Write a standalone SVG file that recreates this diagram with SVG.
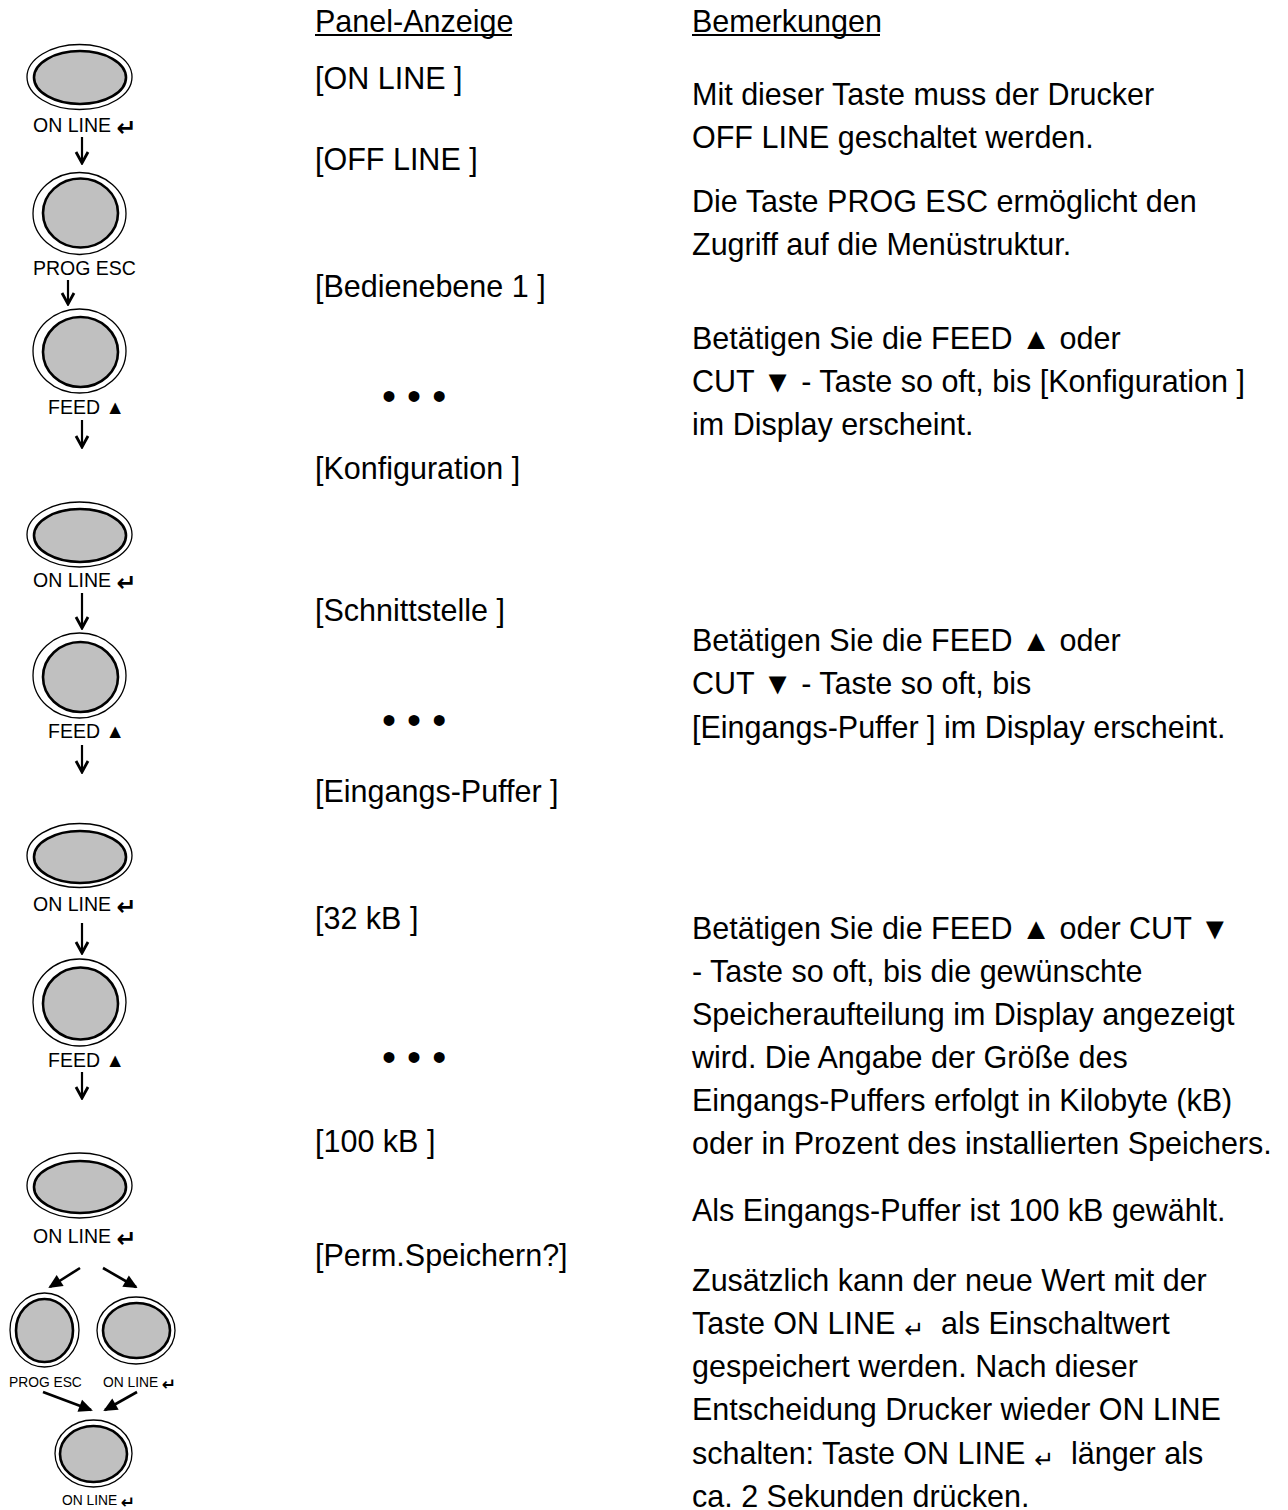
<svg xmlns="http://www.w3.org/2000/svg" width="1288" height="1510" viewBox="0 0 1288 1510">
<style>
text{font-family:"Liberation Sans","DejaVu Sans",sans-serif;fill:#000}
.t{font-size:30.5px}
.lb{font-size:19.5px}
.ls{font-size:13.8px}
.dots{font-size:40px}
.ret{font-family:"DejaVu Sans",sans-serif;font-weight:bold}
.retb{font-family:"DejaVu Sans",sans-serif;font-size:24px}
.outer{fill:#fff;stroke:#000;stroke-width:1.3}
.inner{fill:#c0c0c0;stroke:#000;stroke-width:2.6}
.ul{stroke:#000;stroke-width:2}
.v{stroke:#000;stroke-width:2.2;fill:none;marker-end:url(#chev)}
.d{stroke:#000;stroke-width:2.6;fill:none;marker-end:url(#tri)}
</style>
<defs>
<marker id="chev" markerUnits="userSpaceOnUse" viewBox="-14 -8 16 16" refX="0" refY="0" markerWidth="16" markerHeight="16" orient="auto">
<path d="M-11,-6 L0,0 L-11,6" fill="none" stroke="#000" stroke-width="2.8"/>
</marker>
<marker id="tri" markerUnits="userSpaceOnUse" viewBox="-16 -8 20 16" refX="0" refY="0" markerWidth="20" markerHeight="16" orient="auto">
<path d="M-12,-6.5 L2,0 L-12,6.5 Z" fill="#000"/>
</marker>
</defs>
<rect width="1288" height="1510" fill="#fff"/>

<!-- Buttons -->
<g id="btn1">
<ellipse class="outer" cx="79.5" cy="77" rx="52.5" ry="32.5"/>
<ellipse class="inner" cx="80" cy="77.5" rx="46" ry="26.5"/>
<text class="lb" x="33" y="132">ON LINE <tspan class="ret" font-size="24" baseline-shift="-4">↵</tspan></text>
</g>
<g id="btn2">
<ellipse class="outer" cx="79.5" cy="213.5" rx="46.5" ry="41"/>
<ellipse class="inner" cx="80.5" cy="213" rx="37.5" ry="34.5"/>
<text class="lb" x="33" y="275">PROG ESC</text>
</g>
<g id="btn3">
<ellipse class="outer" cx="79.5" cy="351" rx="46.5" ry="42"/>
<ellipse class="inner" cx="80.5" cy="352" rx="37.5" ry="35"/>
<text class="lb" x="48" y="414">FEED ▲</text>
</g>
<g id="btn4">
<ellipse class="outer" cx="79.5" cy="534.5" rx="52.5" ry="32.5"/>
<ellipse class="inner" cx="80" cy="535.5" rx="46" ry="26.5"/>
<text class="lb" x="33" y="587">ON LINE <tspan class="ret" font-size="24" baseline-shift="-4">↵</tspan></text>
</g>
<g id="btn5">
<ellipse class="outer" cx="79.5" cy="675.5" rx="46.5" ry="42.5"/>
<ellipse class="inner" cx="80.5" cy="677" rx="37.5" ry="35"/>
<text class="lb" x="48" y="738">FEED ▲</text>
</g>
<g id="btn6">
<ellipse class="outer" cx="79.5" cy="855.5" rx="52.5" ry="32"/>
<ellipse class="inner" cx="80" cy="857" rx="46" ry="26"/>
<text class="lb" x="33" y="911">ON LINE <tspan class="ret" font-size="24" baseline-shift="-4">↵</tspan></text>
</g>
<g id="btn7">
<ellipse class="outer" cx="79.5" cy="1002.5" rx="46.5" ry="43.5"/>
<ellipse class="inner" cx="80.5" cy="1003.5" rx="37.5" ry="36"/>
<text class="lb" x="48" y="1067">FEED ▲</text>
</g>
<g id="btn8">
<ellipse class="outer" cx="79.5" cy="1185.5" rx="52.5" ry="32.5"/>
<ellipse class="inner" cx="80" cy="1187" rx="46" ry="26"/>
<text class="lb" x="33" y="1243">ON LINE <tspan class="ret" font-size="24" baseline-shift="-4">↵</tspan></text>
</g>
<g id="btn9">
<ellipse class="outer" cx="44.5" cy="1330" rx="34.5" ry="37"/>
<ellipse class="inner" cx="44.5" cy="1330.5" rx="28.5" ry="31.5"/>
<text class="ls" x="9" y="1387">PROG ESC</text>
</g>
<g id="btn10">
<ellipse class="outer" cx="136" cy="1330.5" rx="39" ry="33.5"/>
<ellipse class="inner" cx="136.5" cy="1330.5" rx="33.5" ry="27.5"/>
<text class="ls" x="103" y="1387">ON LINE <tspan class="ret" font-size="17" baseline-shift="-3">↵</tspan></text>
</g>
<g id="btn11">
<ellipse class="outer" cx="93.5" cy="1453.5" rx="38.5" ry="33.5"/>
<ellipse class="inner" cx="93.5" cy="1454" rx="33.5" ry="28"/>
<text class="ls" x="62" y="1505">ON LINE <tspan class="ret" font-size="17" baseline-shift="-3">↵</tspan></text>
</g>

<!-- Connectors -->
<g id="connectors">
<line class="v" x1="82" y1="137" x2="82" y2="163"/>
<line class="v" x1="68" y1="280" x2="68" y2="304"/>
<line class="v" x1="82" y1="420" x2="82" y2="447"/>
<line class="v" x1="82" y1="593" x2="82" y2="628"/>
<line class="v" x1="82" y1="745" x2="82" y2="772"/>
<line class="v" x1="82" y1="923" x2="82" y2="953"/>
<line class="v" x1="82" y1="1072" x2="82" y2="1098"/>
<line class="d" x1="80" y1="1268" x2="50" y2="1287"/>
<line class="d" x1="103" y1="1268" x2="136" y2="1287"/>
<line class="d" x1="43" y1="1392" x2="91" y2="1410"/>
<line class="d" x1="137" y1="1392" x2="105" y2="1410"/>
</g>

<!-- Panel-Anzeige column -->
<g id="panel">
<text class="t" x="315" y="32">Panel-Anzeige</text>
<line class="ul" x1="315" y1="35" x2="512" y2="35"/>
<text class="t" x="315" y="88.5">[ON LINE ]</text>
<text class="t" x="315" y="170">[OFF LINE ]</text>
<text class="t" x="315" y="297">[Bedienebene 1 ]</text>
<text class="dots" x="382" y="410">• • •</text>
<text class="t" x="315" y="479">[Konfiguration ]</text>
<text class="t" x="315" y="620.5">[Schnittstelle ]</text>
<text class="dots" x="382" y="734">• • •</text>
<text class="t" x="315" y="801.5">[Eingangs-Puffer ]</text>
<text class="t" x="315" y="929">[32 kB ]</text>
<text class="dots" x="382" y="1071">• • •</text>
<text class="t" x="315" y="1152">[100 kB ]</text>
<text class="t" x="315" y="1266">[Perm.Speichern?]</text>
</g>

<!-- Bemerkungen column -->
<g id="remarks">
<text class="t" x="692" y="32">Bemerkungen</text>
<line class="ul" x1="692" y1="35" x2="880" y2="35"/>
<text class="t" x="692" y="104.5">Mit dieser Taste muss der Drucker</text>
<text class="t" x="692" y="147.5">OFF LINE geschaltet werden.</text>
<text class="t" x="692" y="211.5">Die Taste PROG ESC ermöglicht den</text>
<text class="t" x="692" y="254.5">Zugriff auf die Menüstruktur.</text>
<text class="t" x="692" y="348.5">Betätigen Sie die FEED ▲ oder</text>
<text class="t" x="692" y="391.5">CUT ▼ - Taste so oft, bis [Konfiguration ]</text>
<text class="t" x="692" y="434.5">im Display erscheint.</text>
<text class="t" x="692" y="650.5">Betätigen Sie die FEED ▲ oder</text>
<text class="t" x="692" y="693.5">CUT ▼ - Taste so oft, bis</text>
<text class="t" x="692" y="737.5">[Eingangs-Puffer ] im Display erscheint.</text>
<text class="t" x="692" y="938.5">Betätigen Sie die FEED ▲ oder CUT ▼</text>
<text class="t" x="692" y="981.5">- Taste so oft, bis die gewünschte</text>
<text class="t" x="692" y="1024.5">Speicheraufteilung im Display angezeigt</text>
<text class="t" x="692" y="1067.5">wird. Die Angabe der Größe des</text>
<text class="t" x="692" y="1110.5">Eingangs-Puffers erfolgt in Kilobyte (kB)</text>
<text class="t" x="692" y="1153.5">oder in Prozent des installierten Speichers.</text>
<text class="t" x="692" y="1220.5">Als Eingangs-Puffer ist 100 kB gewählt.</text>
<text class="t" x="692" y="1290.5">Zusätzlich kann der neue Wert mit der</text>
<text class="t" x="692" y="1333.5">Taste ON LINE <tspan class="retb" baseline-shift="-4">↵</tspan>&#160; als Einschaltwert</text>
<text class="t" x="692" y="1376.5">gespeichert werden. Nach dieser</text>
<text class="t" x="692" y="1419.5">Entscheidung Drucker wieder ON LINE</text>
<text class="t" x="692" y="1463.5">schalten: Taste ON LINE <tspan class="retb" baseline-shift="-4">↵</tspan>&#160; länger als</text>
<text class="t" x="692" y="1506.5">ca. 2 Sekunden drücken.</text>
</g>
</svg>
